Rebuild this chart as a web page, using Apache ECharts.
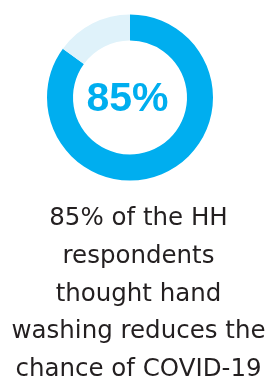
<!DOCTYPE html>
<html>
<head>
<meta charset="utf-8">
<script src="https://cdn.jsdelivr.net/npm/echarts@6/dist/echarts.min.js"></script>
<style>
  html, body { margin: 0; padding: 0; background: #fff; }
  #chart { width: 273px; height: 379px; }
</style>
</head>
<body>
<div id="chart"></div>
<script>
var sliceNames = ['Yes', 'No'];
var sliceValues = [85, 15];
var sliceColors = ['#00AEEF', '#DFF2FA'];
var centerLabel = '85%';
var captionLines = ['85% of the HH', 'respondents', 'thought hand', 'washing reduces the', 'chance of COVID-19'];

var chart = echarts.init(document.getElementById('chart'));

var option = {
  animation: false,
  graphic: [{
    type: 'text',
    x: 127.5, y: 99.5,
    style: {
      text: centerLabel,
      align: 'center', verticalAlign: 'middle',
      fill: '#00AEEF', fontSize: 41, fontWeight: 'bold', fontFamily: 'Liberation Sans'
    }
  }, {
    type: 'text',
    x: 138.5, y: 200,
    style: {
      text: captionLines.join('\n'),
      align: 'center', verticalAlign: 'top',
      lineHeight: 37.7,
      fill: '#231F20', fontSize: 24.5, fontFamily: 'DejaVu Sans'
    }
  }],
  series: [{
    type: 'pie',
    center: [130, 97.5],
    radius: [57, 83],
    startAngle: 90,
    clockwise: true,
    silent: true,
    label: { show: false },
    labelLine: { show: false },
    data: sliceValues.map(function (v, i) {
      return { name: sliceNames[i], value: v, itemStyle: { color: sliceColors[i] } };
    })
  }]
};
chart.setOption(option);
</script>
</body>
</html>
